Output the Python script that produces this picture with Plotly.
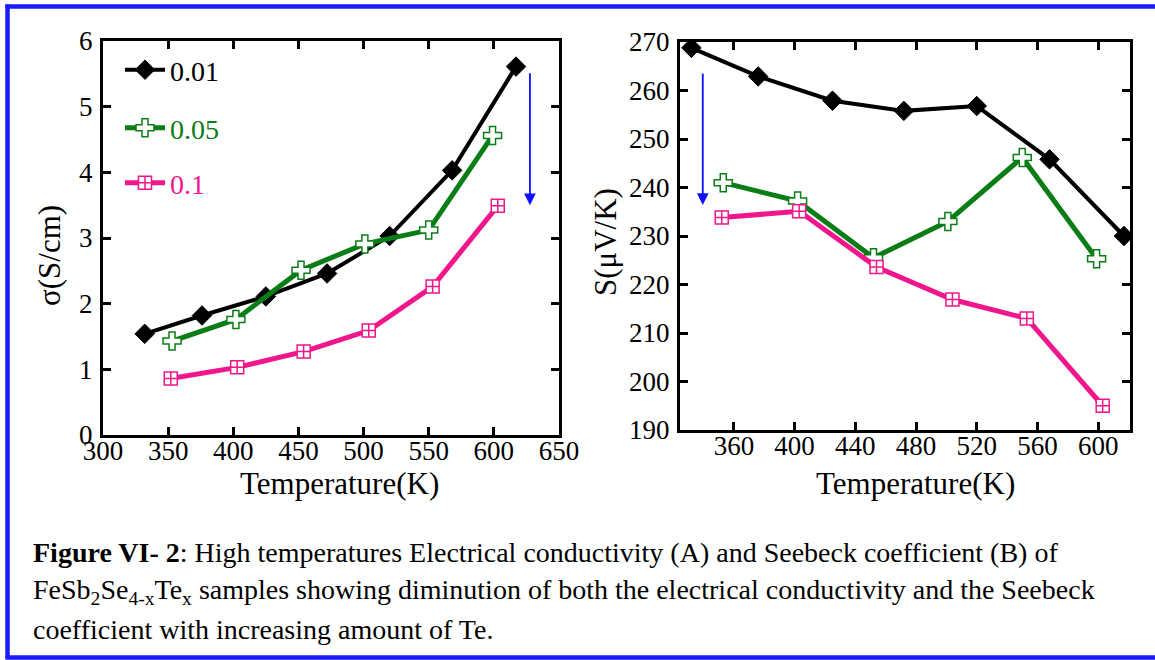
import plotly.graph_objects as go

# ---------------- data ----------------
series_names = ["0.01", "0.05", "0.1"]
colors = ["#000000", "#0b7d16", "#f0168c"]

T_001 = [332, 376, 425, 472, 520, 568, 617]
T_005 = [353, 402, 452, 501, 550, 599]
T_01 = [352, 403, 454, 504, 553, 603]

sigma_001 = [1.54, 1.82, 2.11, 2.46, 3.03, 4.03, 5.61]
sigma_005 = [1.43, 1.76, 2.51, 2.91, 3.12, 4.56]
sigma_01 = [0.86, 1.03, 1.27, 1.59, 2.26, 3.49]

S_001 = [268.8, 262.9, 257.9, 255.8, 256.8, 245.8, 230.0]
S_005 = [241.0, 237.2, 225.5, 233.0, 246.2, 225.3]
S_01 = [233.8, 235.1, 223.6, 216.9, 213.0, 195.0]

left_xticks = [300, 350, 400, 450, 500, 550, 600, 650]
left_yticks = [0, 1, 2, 3, 4, 5, 6]
right_xticks = [360, 400, 440, 480, 520, 560, 600]
right_yticks = [190, 200, 210, 220, 230, 240, 250, 260, 270]

x_title = "Temperature(K)"
y_title_left = "σ(S/cm)"
y_title_right = "S(μV/K)"

W, H = 1155, 660
FONT = "Liberation Serif"


def px(x):
    return x / W


def py(y):
    return 1 - y / H


fig = go.Figure()

styles = [
    dict(symbol="diamond", size=15, color="#000000", line=dict(color="#000000", width=1)),
    dict(symbol="cross", size=15, color="white", line=dict(color=colors[1], width=1.5)),
    dict(symbol="square-cross", size=13, color="white", line=dict(color=colors[2], width=1.5)),
]
widths = [4, 5, 5]
legends = ["legend", "legend2", "legend3"]

T_all = [T_001, T_005, T_01]
left_v = [sigma_001, sigma_005, sigma_01]
right_v = [S_001, S_005, S_01]

for i in range(3):
    fig.add_trace(go.Scatter(
        x=T_all[i], y=left_v[i], mode="lines+markers", name=series_names[i],
        line=dict(color=colors[i], width=widths[i]), marker=styles[i],
        xaxis="x", yaxis="y", legend=legends[i], showlegend=True))
for i in range(3):
    fig.add_trace(go.Scatter(
        x=T_all[i], y=right_v[i], mode="lines+markers", name=series_names[i],
        line=dict(color=colors[i], width=widths[i]), marker=styles[i],
        xaxis="x2", yaxis="y2", showlegend=False))

axis_common = dict(
    showline=True, linecolor="black", linewidth=3, mirror="ticks",
    ticks="inside", ticklen=8, tickwidth=2.5, tickcolor="black",
    showgrid=False, zeroline=False, automargin=False,
    tickfont=dict(family=FONT, size=27, color="black"),
)
title_font = dict(family=FONT, size=31, color="black")

fig.update_layout(
    width=W, height=H,
    margin=dict(l=0, r=0, t=0, b=0, pad=0, autoexpand=False),
    paper_bgcolor="white", plot_bgcolor="white",
    xaxis=dict(domain=[px(103), px(559)], range=[300, 650], tickvals=left_xticks,
               anchor="y", ticklabelstandoff=-10, **axis_common),
    yaxis=dict(domain=[py(435), py(41)], range=[0, 6], tickvals=left_yticks,
               anchor="x", ticklabelstandoff=2, **axis_common),
    xaxis2=dict(domain=[px(680), px(1130)], range=[324.5, 621], tickvals=right_xticks,
                anchor="y2", ticklabelstandoff=-10, **axis_common),
    yaxis2=dict(domain=[py(430), py(42)], range=[190, 270], tickvals=right_yticks,
                anchor="x2", ticklabelstandoff=2, **axis_common),
    showlegend=True,
)

leg_y = [70, 128, 183]
for i, key in enumerate(legends):
    fig.update_layout({key: dict(
        x=px(120), y=py(leg_y[i]), xanchor="left", yanchor="middle",
        bgcolor="rgba(0,0,0,0)", borderwidth=0,
        font=dict(family=FONT, size=28, color=colors[i]),
        itemwidth=40,
    )})

# axis titles
fig.add_annotation(x=px(339), y=py(483), xref="paper", yref="paper", text=x_title,
                   showarrow=False, xanchor="center", yanchor="middle", font=title_font)
fig.add_annotation(x=px(915), y=py(484), xref="paper", yref="paper", text=x_title,
                   showarrow=False, xanchor="center", yanchor="middle", font=title_font)
fig.add_annotation(x=px(49), y=py(256), xref="paper", yref="paper", text=y_title_left,
                   showarrow=False, xanchor="center", yanchor="middle", textangle=-90,
                   font=title_font)
fig.add_annotation(x=px(605), y=py(242), xref="paper", yref="paper", text=y_title_right,
                   showarrow=False, xanchor="center", yanchor="middle", textangle=-90,
                   font=title_font)

# blue arrows
fig.add_annotation(x=627.7, y=3.5, ax=627.7, ay=5.53, xref="x", yref="y",
                   axref="x", ayref="y", text="", showarrow=True,
                   arrowhead=2, arrowsize=1.3, arrowwidth=1.8, arrowcolor="#1010ff")
fig.add_annotation(x=339.5, y=236.4, ax=339.5, ay=263.8, xref="x2", yref="y2",
                   axref="x2", ayref="y2", text="", showarrow=True,
                   arrowhead=2, arrowsize=1.3, arrowwidth=1.8, arrowcolor="#1010ff")

# caption
caption = [
    "<b>Figure VI- 2</b>: High temperatures Electrical conductivity (A) and Seebeck coefficient (B) of",
    "FeSb<sub>2</sub>Se<sub>4-x</sub>Te<sub>x</sub> samples showing diminution of both the electrical conductivity and the Seebeck",
    "coefficient with increasing amount of Te.",
]
cap_y = [552, 591, 629]
for line, yy in zip(caption, cap_y):
    fig.add_annotation(x=px(31), y=py(yy), xref="paper", yref="paper",
                       xanchor="left", yanchor="middle", showarrow=False,
                       text=line, font=dict(family=FONT, size=28, color="black"))

# blue frame (left, top, bottom; open on the right)
frame = dict(color="#1a1aff", width=4.5)
fig.add_shape(type="line", xref="paper", yref="paper", x0=px(7.5), x1=px(7.5),
              y0=py(658.5), y1=py(4.5), line=frame)
fig.add_shape(type="line", xref="paper", yref="paper", x0=px(5.5), x1=1,
              y0=py(6.5), y1=py(6.5), line=frame)
fig.add_shape(type="line", xref="paper", yref="paper", x0=px(5.5), x1=1,
              y0=py(657.5), y1=py(657.5), line=frame)

fig.write_html("out.html")
